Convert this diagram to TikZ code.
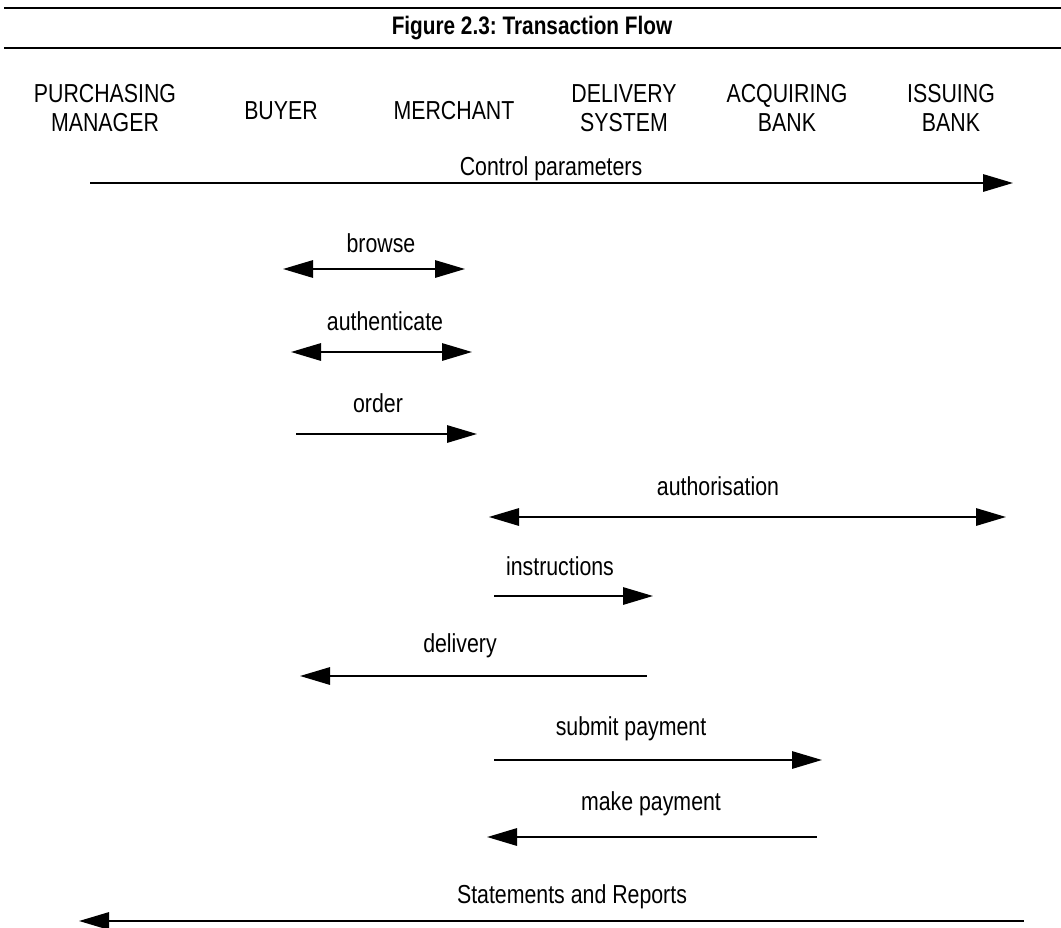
\documentclass[tikz,border=0pt]{standalone}
\usepackage{fontspec}
\setmainfont{Liberation Sans}[FakeStretch=0.82]
\usetikzlibrary{arrows.meta}
\frenchspacing
\begin{document}
\begin{tikzpicture}[x=0.75pt,y=-0.75pt,
  txt/.style={font=\fontsize{19.5}{21.75}\selectfont, inner sep=0pt, outer sep=0pt},
  head/.style={txt, align=center, anchor=base},
  lbl/.style={txt, anchor=base},
  flow/.style={line width=1.5pt, -{Triangle[length=22.5pt,width=13pt]}},
  back/.style={line width=1.5pt, {Triangle[length=22.5pt,width=13pt]}-},
  both/.style={line width=1.5pt, {Triangle[length=22.5pt,width=13pt]}-{Triangle[length=22.5pt,width=13pt]}},
  rule/.style={line width=1.5pt}]
\useasboundingbox (0,0) rectangle (1061,928);

% title bar
\coordinate (ruleTopL) at (4,8);
\coordinate (ruleTopR) at (1061,8);
\coordinate (ruleBotL) at (4,48);
\coordinate (ruleBotR) at (1061,48);
\draw[rule] (ruleTopL) -- (ruleTopR);
\draw[rule] (ruleBotL) -- (ruleBotR);
\node[lbl, font=\fontsize{19}{21}\selectfont\bfseries] (title) at (532,35) {Figure 2.3: Transaction Flow};

% parties (base anchor sits on the last line)
\node[head] (pm)  at (105,131) {PURCHASING\\MANAGER};
\node[head] (buy) at (281,119) {BUYER};
\node[head] (mer) at (454,119) {MERCHANT};
\node[head] (del) at (624,131) {DELIVERY\\SYSTEM};
\node[head] (acq) at (787,131) {ACQUIRING\\BANK};
\node[head] (iss) at (951,131) {ISSUING\\BANK};

% message end points
\coordinate (cpA) at (90,183);   \coordinate (cpB) at (1013,183);
\coordinate (brA) at (283,269);  \coordinate (brB) at (465,269);
\coordinate (auA) at (291,352);  \coordinate (auB) at (472,352);
\coordinate (orA) at (296,434);  \coordinate (orB) at (477,434);
\coordinate (atA) at (489,517);  \coordinate (atB) at (1006,517);
\coordinate (inA) at (494,596);  \coordinate (inB) at (653,596);
\coordinate (dvA) at (300,676);  \coordinate (dvB) at (647,676);
\coordinate (spA) at (494,760);  \coordinate (spB) at (822,760);
\coordinate (mpA) at (487,837);  \coordinate (mpB) at (817,837);
\coordinate (srA) at (79,921);   \coordinate (srB) at (1024,921);

% messages
\draw[flow] (cpA) -- (cpB);
\node[lbl] (cpL) at (551,175) {Control parameters};
\draw[both] (brA) -- (brB);
\node[lbl] (brL) at (381,252) {browse};
\draw[both] (auA) -- (auB);
\node[lbl] (auL) at (385,330) {authenticate};
\draw[flow] (orA) -- (orB);
\node[lbl] (orL) at (378,412) {order};
\draw[both] (atA) -- (atB);
\node[lbl] (atL) at (718,495) {authorisation};
\draw[flow] (inA) -- (inB);
\node[lbl] (inL) at (560,575) {instructions};
\draw[back] (dvA) -- (dvB);
\node[lbl] (dvL) at (460,652) {delivery};
\draw[flow] (spA) -- (spB);
\node[lbl] (spL) at (631,735) {submit payment};
\draw[back] (mpA) -- (mpB);
\node[lbl] (mpL) at (651,810) {make payment};
\draw[back] (srA) -- (srB);
\node[lbl] (srL) at (572,903) {Statements and Reports};
\end{tikzpicture}
\end{document}
